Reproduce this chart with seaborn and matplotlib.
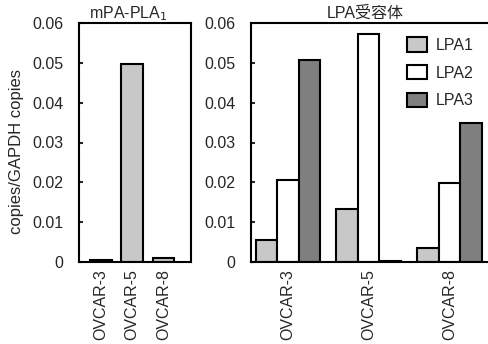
import numpy as np
import pandas as pd
import seaborn as sns
import matplotlib.pyplot as plt

# --------------------
# Data
# --------------------
cell_lines = ["OVCAR-3", "OVCAR-5", "OVCAR-8"]
receptors = ["LPA1", "LPA2", "LPA3"]

mpa_pla1 = [0.0004, 0.0498, 0.0010]

lpa1 = [0.0054, 0.0133, 0.0036]
lpa2 = [0.0206, 0.0572, 0.0198]
lpa3 = [0.0507, 0.0003, 0.0348]

yticks = [0, 0.01, 0.02, 0.03, 0.04, 0.05, 0.06]
ytick_labels = ["0", "0.01", "0.02", "0.03", "0.04", "0.05", "0.06"]

receptor_colors = {"LPA1": "#c8c8c8", "LPA2": "#ffffff", "LPA3": "#7f7f7f"}

sns.set_style("white")
plt.rcParams["font.family"] = ["Liberation Sans", "Noto Sans CJK JP", "DejaVu Sans"]
plt.rcParams["font.size"] = 11.5

left_df = pd.DataFrame({"cell": cell_lines, "copies": mpa_pla1})
right_df = pd.DataFrame({
    "cell": cell_lines * 3,
    "receptor": [r for r in receptors for _ in cell_lines],
    "copies": lpa1 + lpa2 + lpa3,
})

W, H = 488, 344
fig = plt.figure(figsize=(W / 100, H / 100), dpi=100)
ax1 = fig.add_axes([79 / W, (H - 262) / H, 112 / W, 239 / H])
ax2 = fig.add_axes([251 / W, (H - 262) / H, 250 / W, 239 / H])

sns.barplot(data=left_df, x="cell", y="copies", color="#c8c8c8", width=0.7,
            edgecolor="black", linewidth=1.5, saturation=1, ax=ax1)
sns.barplot(data=right_df, x="cell", y="copies", hue="receptor",
            palette=receptor_colors, width=0.8, edgecolor="black",
            linewidth=1.5, saturation=1, ax=ax2)

ax1.set_xlim(-0.70, 2.88)
ax2.set_xlim(-0.46, 2.64)

for ax in (ax1, ax2):
    ax.set_ylim(0, 0.06)
    ax.set_yticks(yticks)
    ax.set_yticklabels(ytick_labels)
    ax.set_xlabel("")
    ax.set_ylabel("")
    ax.tick_params(axis="y", left=True, direction="in", length=3, width=1.5,
                   pad=11, labelsize=11.5)
    ax.tick_params(axis="x", length=0, pad=5, labelsize=11.5, labelrotation=90)
    for s in ax.spines.values():
        s.set_linewidth(1.5)
        s.set_color("black")

leg = ax2.legend(loc="upper left", bbox_to_anchor=(0.565, 1.0), frameon=False,
                 fontsize=11.5, handlelength=1.25, handleheight=1.0,
                 labelspacing=0.75, handletextpad=0.6)
for h in leg.legend_handles:
    h.set_edgecolor("black")
    h.set_linewidth(1.5)

fig.text(128 / W, 1 - 14 / H, "mPA-PLA$_1$", ha="center", va="center", fontsize=11.5)
fig.text(365 / W, 1 - 13 / H, "LPA受容体", ha="center", va="center", fontsize=11.5)
fig.text(17 / W, 1 - 151 / H, "copies/GAPDH copies", rotation=90,
         ha="center", va="center", fontsize=12)

fig.savefig("out.png", dpi=100)
